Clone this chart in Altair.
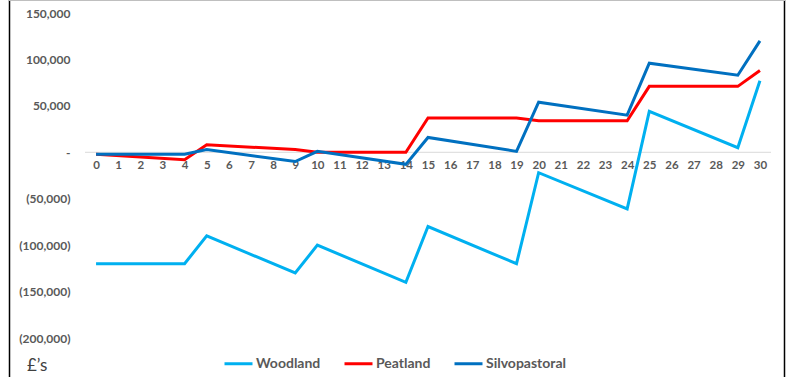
import altair as alt
import pandas as pd

years = [0, 4, 5, 9, 10, 14, 15, 19, 20, 24, 25, 29, 30]
woodland = [-120000, -120000, -90000, -130000, -100000, -140000, -80000, -120000, -22000, -61000, 44000, 5000, 77000]
peatland = [-2000, -8000, 8000, 3000, 0, 0, 37000, 37000, 34000, 34000, 71000, 71000, 88000]
silvopastoral = [-2000, -2000, 3000, -10000, 1000, -13000, 16000, 1000, 54000, 40000, 96000, 83000, 120000]

series_names = ["Woodland", "Peatland", "Silvopastoral"]
series_colors = ["#00B0F0", "#FF0000", "#0070C0"]
x_ticks = list(range(0, 31))
y_ticks = [150000, 100000, 50000, 0, -50000, -100000, -150000, -200000]

rows = []
for name, vals in zip(series_names, [woodland, peatland, silvopastoral]):
    for i, (yr, v) in enumerate(zip(years, vals)):
        rows.append({"year": yr, "value": v, "series": name, "order": series_names.index(name)})
df = pd.DataFrame(rows)

FONT = "Lato"
GREY = "#595959"

x = alt.X("year:Q",
          scale=alt.Scale(domain=[-0.5, 30.5], nice=False, zero=False),
          axis=alt.Axis(values=x_ticks, title=None, domain=False, ticks=False, grid=False,
                        offset=-185, labelPadding=6, labelFont=FONT, labelFontWeight="bold",
                        labelFontSize=11.5, labelColor=GREY, labelFlush=False))
y = alt.Y("value:Q",
          scale=alt.Scale(domain=[-200000, 150000], nice=False),
          axis=alt.Axis(values=y_ticks, title=None, domain=False, ticks=False, grid=False,
                        labelPadding=15, labelFont=FONT, labelFontWeight="bold",
                        labelFontSize=12, labelColor=GREY,
                        labelExpr="datum.value == 0 ? '-' : (datum.value < 0 ? '(' + format(-datum.value, ',') + ')' : format(datum.value, ','))"))

zero = alt.Chart(pd.DataFrame({"z": [0]})).mark_rule(color="#D9D9D9", strokeWidth=1).encode(y="z:Q")

lines = alt.Chart(df).mark_line(strokeWidth=3).encode(
    x=x, y=y,
    color=alt.Color("series:N",
                    scale=alt.Scale(domain=series_names, range=series_colors),
                    sort=series_names,
                    legend=alt.Legend(title=None, orient="none", direction="horizontal",
                                      legendX=138, legendY=335, symbolType="stroke",
                                      symbolStrokeWidth=3, symbolSize=784, labelOffset=2,
                                      columnPadding=17, labelFont=FONT, labelFontWeight="bold",
                                      labelFontSize=14, labelColor=GREY)),
    detail="order:O",
)

unit = alt.Chart(pd.DataFrame({"t": ["£’s"]})).mark_text(
    font=FONT, fontSize=17, color="#404040", align="left", baseline="middle"
).encode(text="t:N", x=alt.value(-58), y=alt.value(353))

left_border = alt.Chart(pd.DataFrame({"a": [0]})).mark_rule(color="#000000", strokeWidth=1.5).encode(
    x=alt.value(-75.5), y=alt.value(-13), y2=alt.value(370))
right_border = alt.Chart(pd.DataFrame({"a": [0]})).mark_rule(color="#000000", strokeWidth=1.5).encode(
    x=alt.value(699.5), y=alt.value(-13), y2=alt.value(370))
top_border = alt.Chart(pd.DataFrame({"a": [0]})).mark_rule(color="#BFBFBF", strokeWidth=1).encode(
    x=alt.value(-76), x2=alt.value(700), y=alt.value(-12.5))

chart = alt.layer(zero, lines, unit, left_border, right_border, top_border).properties(
    width=686, height=325,
    autosize=alt.AutoSizeParams(type="none"),
    padding={"left": 85, "top": 13, "right": 15, "bottom": 39},
    background="white",
).configure_view(stroke=None)

chart.save("out.html", embed_options={"renderer": "svg", "actions": False})
